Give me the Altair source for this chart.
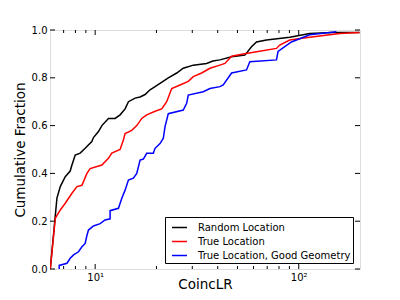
import altair as alt
import pandas as pd

series_names = ["Random Location", "True Location", "True Location, Good Geometry"]
series_colors = ["#000000", "#ff0000", "#0000ff"]

black_x = [6.02, 6.49, 6.74, 7.13, 7.54, 7.69, 7.98, 8.44, 8.93, 9.63, 9.81, 10.38, 10.79, 11.62, 12.53,
           13.26, 14.03, 14.57, 15.71, 16.62, 17.59, 18.61, 19.69, 20.83, 22.87, 25.16, 27.09, 30.34,
           35.28, 37.88, 41.0, 46.8, 54.36, 58.63, 62.03, 69.45, 90.36, 113.2, 146.8, 199.0]
black_y = [0.0, 0.297, 0.345, 0.386, 0.41, 0.435, 0.477, 0.485, 0.505, 0.533, 0.55, 0.575, 0.60, 0.63, 0.63,
           0.645, 0.67, 0.70, 0.715, 0.72, 0.73, 0.75, 0.763, 0.777, 0.80, 0.82, 0.84, 0.853,
           0.86, 0.87, 0.875, 0.888, 0.895, 0.93, 0.95, 0.958, 0.97, 0.985, 0.99, 0.99]

red_x = [6.02, 6.37, 6.74, 7.13, 7.69, 8.14, 8.61, 9.11, 9.45, 10.79, 11.62, 12.07, 13.26, 13.76, 14.03,
         15.13, 16.01, 16.94, 17.92, 19.69, 21.23, 22.46, 23.77, 26.11, 28.67, 30.34, 33.35, 36.62,
         41.0, 43.39, 46.8, 53.33, 63.17, 77.74, 80.69, 90.36, 113.2, 158.9, 199.0]
red_y = [0.0, 0.212, 0.247, 0.275, 0.317, 0.345, 0.35, 0.40, 0.42, 0.435, 0.463, 0.485, 0.50, 0.54, 0.567,
         0.58, 0.60, 0.63, 0.645, 0.66, 0.67, 0.70, 0.755, 0.77, 0.785, 0.805, 0.82, 0.84,
         0.853, 0.86, 0.89, 0.90, 0.91, 0.923, 0.937, 0.958, 0.97, 0.985, 0.99]

blue_x = [6.66, 6.66, 7.27, 7.54, 7.83, 8.28, 8.61, 8.93, 9.11, 9.27, 9.81, 10.58, 11.19, 11.84, 11.84,
          13.01, 13.52, 14.03, 14.57, 15.41, 16.01, 16.62, 17.25, 17.92, 19.31, 19.69, 20.83, 21.62,
          22.03, 22.87, 27.09, 28.15, 28.67, 33.96, 36.62, 41.0, 42.56, 46.8, 55.41, 57.52, 77.74,
          79.15, 92.11, 113.2, 153.0]
blue_y = [0.0, 0.015, 0.024, 0.045, 0.059, 0.072, 0.093, 0.107, 0.14, 0.163, 0.18, 0.19, 0.205, 0.21, 0.244,
          0.254, 0.296, 0.33, 0.372, 0.38, 0.40, 0.456, 0.46, 0.484, 0.484, 0.505, 0.525, 0.547,
          0.595, 0.65, 0.665, 0.693, 0.728, 0.742, 0.755, 0.763, 0.77, 0.82, 0.833, 0.867, 0.875,
          0.91, 0.95, 0.98, 0.993]

x_major = [10, 100]
x_minor = [7, 8, 9, 20, 30, 40, 50, 60, 70, 80, 90]
y_major = [0.0, 0.2, 0.4, 0.6, 0.8, 1.0]

rows = []
for name, xs, ys in zip(series_names, [black_x, red_x, blue_x], [black_y, red_y, blue_y]):
    for i, (xv, yv) in enumerate(zip(xs, ys)):
        rows.append({"x": xv, "y": yv, "series": name, "order": i})
df = pd.DataFrame(rows)

W, H = 310, 239
xscale = alt.Scale(type="log", domain=[6, 200], nice=False)
yscale = alt.Scale(domain=[0, 1], nice=False)

lines = alt.Chart(df).mark_line(strokeWidth=1.5, clip=True).encode(
    x=alt.X("x:Q", scale=xscale,
            axis=alt.Axis(values=x_major, ticks=False, domain=False, grid=False,
                          labelExpr="datum.value == 10 ? '10¹' : '10²'",
                          labelFontSize=10, labelPadding=3, labelColor="black",
                          title="CoincLR", titleFontSize=13.5, titleFontWeight="normal",
                          titleY=19, titleBaseline="alphabetic", titleColor="black")),
    y=alt.Y("y:Q", scale=yscale,
            axis=alt.Axis(values=y_major, format=".1f", ticks=False, domain=False, grid=False,
                          labelFontSize=10, labelPadding=3, labelColor="black",
                          title="Cumulative Fraction", titleFontSize=13.5, titleFontWeight="normal",
                          titlePadding=4, titleColor="black")),
    color=alt.Color("series:N",
                    scale=alt.Scale(domain=series_names, range=series_colors),
                    legend=alt.Legend(title=None, orient="none", legendX=115, legendY=187,
                                      symbolType="stroke", symbolSize=225, symbolStrokeWidth=1.5,
                                      symbolOffset=4,
                                      labelFontSize=10, labelOffset=10, labelColor="black",
                                      fillColor="white", strokeColor="black", padding=2,
                                      rowPadding=0, cornerRadius=0)),
    order="order:Q",
)

maj_df = pd.DataFrame({"x": x_major})
min_df = pd.DataFrame({"x": x_minor})
ydf = pd.DataFrame({"y": y_major})

def xticks(d, L):
    bot = alt.Chart(d).mark_rule(color="black", strokeWidth=1).encode(
        x=alt.X("x:Q", scale=xscale), y=alt.value(H), y2=alt.value(H - L))
    top = alt.Chart(d).mark_rule(color="black", strokeWidth=1).encode(
        x=alt.X("x:Q", scale=xscale), y=alt.value(0), y2=alt.value(L))
    return [bot, top]

yl = alt.Chart(ydf).mark_rule(color="black", strokeWidth=1).encode(
    y=alt.Y("y:Q", scale=yscale), x=alt.value(0), x2=alt.value(5))
yr = alt.Chart(ydf).mark_rule(color="black", strokeWidth=1).encode(
    y=alt.Y("y:Q", scale=yscale), x=alt.value(W), x2=alt.value(W - 5))

chart = alt.layer(lines, *xticks(maj_df, 5), *xticks(min_df, 3), yl, yr).properties(
    width=W, height=H,
    autosize=alt.AutoSizeParams(type="none"),
    padding={"left": 42, "top": 22, "right": 32, "bottom": 23},
).configure_view(stroke="black", strokeWidth=1).configure(
    font="DejaVu Sans", background="white"
)

chart.save("out.html", embed_options={"renderer": "svg", "actions": False})
